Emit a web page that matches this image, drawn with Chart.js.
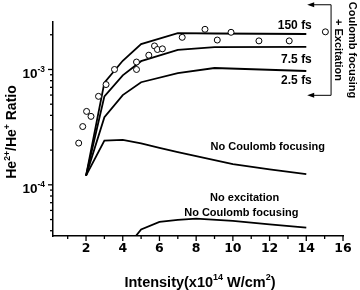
<!DOCTYPE html>
<html>
<head>
<meta charset="utf-8">
<script src="https://cdn.jsdelivr.net/npm/chart.js@4.4.1/dist/chart.umd.min.js"></script>
<style>
html, body { margin: 0; padding: 0; background: #fff; }
#wrap { width: 360px; height: 290px; position: relative; }
</style>
</head>
<body>
<div id="wrap"><canvas id="ratioChart"></canvas></div>
<script>
// theory curves, x = intensity (x10^14 W/cm2), y = He2+/He+ ratio
var fs150_x = [2, 3, 4, 5, 7, 9, 14];
var fs150_y = [1.2e-4, 7.7e-4, 1.19e-3, 1.66e-3, 2.07e-3, 2.05e-3, 2.03e-3];
var fs75_x = [2, 3, 4, 5, 7, 9, 14];
var fs75_y = [1.2e-4, 5.85e-4, 8.9e-4, 1.18e-3, 1.48e-3, 1.56e-3, 1.57e-3];
var fs25_x = [2, 3, 4, 5, 7, 9, 14];
var fs25_y = [1.2e-4, 3.86e-4, 6.0e-4, 7.75e-4, 9.3e-4, 1.03e-3, 9.7e-4];
var noCF_x = [2, 3, 4, 5, 6, 7, 8, 10, 12, 14];
var noCF_y = [1.2e-4, 2.42e-4, 2.45e-4, 2.29e-4, 2.09e-4, 1.92e-4, 1.77e-4, 1.51e-4, 1.36e-4, 1.24e-4];
var noExc_x = [4, 5, 6, 7, 8, 10, 12, 14];
var noExc_y = [2.6e-5, 4.1e-5, 4.77e-5, 4.96e-5, 5.1e-5, 4.87e-5, 4.54e-5, 4.25e-5];
// measured points (open circles)
var exp_x = [1.6, 1.82, 2.03, 2.27, 2.68, 3.09, 3.55, 4.75, 4.75, 5.42, 5.73, 5.89, 6.16, 7.24, 8.48, 9.15, 9.9, 11.42, 13.07, 15.04];
var exp_y = [2.3e-4, 3.2e-4, 4.33e-4, 3.92e-4, 5.85e-4, 7.4e-4, 1.0e-3, 1.16e-3, 1.0e-3, 1.33e-3, 1.6e-3, 1.49e-3, 1.51e-3, 1.9e-3, 2.23e-3, 1.8e-3, 2.1e-3, 1.77e-3, 1.77e-3, 2.12e-3];

// ticks
var xTickValues = [1, 2, 3, 4, 5, 6, 7, 8, 9, 10, 11, 12, 13, 14, 15, 16];
var xTickLabels = ['', '2', '', '4', '', '6', '', '8', '', '10', '', '12', '', '14', '', '16'];
var yMajorTicks = [1e-4, 1e-3];
var yMajorExp = ['-4', '-3'];
var yMinorTicks = [4e-5, 5e-5, 6e-5, 7e-5, 8e-5, 9e-5, 2e-4, 3e-4, 4e-4, 5e-4, 6e-4, 7e-4, 8e-4, 9e-4, 2e-3];

function pts(xs, ys) {
    return xs.map(function (v, i) { return { x: v, y: ys[i] }; });
}

var FONT = '"Liberation Sans", Arial, sans-serif';

function drawRich(ctx, parts, x, y, size, align) {
    var widths = [], total = 0;
    parts.forEach(function (p) {
        ctx.font = 'bold ' + (p[1] ? size * 0.62 : size) + 'px ' + FONT;
        var w = ctx.measureText(p[0]).width;
        widths.push(w);
        total += w;
    });
    var start = align === 'center' ? x - total / 2 : (align === 'right' ? x - total : x);
    ctx.textAlign = 'left';
    ctx.textBaseline = 'alphabetic';
    parts.forEach(function (p, i) {
        ctx.font = 'bold ' + (p[1] ? size * 0.62 : size) + 'px ' + FONT;
        ctx.fillText(p[0], start, p[1] ? y - size * 0.45 : y);
        start += widths[i];
    });
}

function seg(ctx, x1, y1, x2, y2) {
    ctx.beginPath();
    ctx.moveTo(x1, y1);
    ctx.lineTo(x2, y2);
    ctx.stroke();
}

var decor = {
    id: 'decor',
    afterDraw: function (chart) {
        var ctx = chart.ctx, xs = chart.scales.x, ys = chart.scales.y, a = chart.chartArea;
        ctx.save();
        ctx.strokeStyle = '#000';
        ctx.fillStyle = '#000';
        ctx.lineWidth = 1.3;
        // x tick marks (outward)
        xTickValues.forEach(function (v) {
            var px = xs.getPixelForValue(v);
            seg(ctx, px, a.bottom, px, a.bottom + (v % 2 === 0 ? 5 : 3));
        });
        // y tick marks (outward)
        yMajorTicks.forEach(function (v) {
            var py = ys.getPixelForValue(v);
            seg(ctx, a.left, py, a.left - 5, py);
        });
        yMinorTicks.forEach(function (v) {
            var py = ys.getPixelForValue(v);
            seg(ctx, a.left, py, a.left - 3, py);
        });
        // y tick labels 10^n
        yMajorTicks.forEach(function (v, i) {
            var py = ys.getPixelForValue(v);
            drawRich(ctx, [['10', false], [yMajorExp[i], true]], a.left - 8, py + 8.5, 13.5, 'right');
        });
        // axis titles
        drawRich(ctx, [['Intensity(x10', false], ['14', true], [' W/cm', false], ['2', true], [')', false]],
            (a.left + a.right) / 2 + 2, 286.5, 14.5, 'center');
        ctx.save();
        ctx.translate(11, 132);
        ctx.rotate(-Math.PI / 2);
        drawRich(ctx, [['He', false], ['2+', true], ['/He', false], ['+', true], [' Ratio', false]], 0, 5, 14, 'center');
        ctx.restore();

        // curve labels
        ctx.font = 'bold 12px ' + FONT;
        ctx.textAlign = 'right';
        ctx.textBaseline = 'middle';
        ctx.fillText('150 fs', xs.getPixelForValue(14.3), ys.getPixelForValue(2.4e-3));
        ctx.fillText('7.5 fs', xs.getPixelForValue(14.3), ys.getPixelForValue(1.22e-3));
        ctx.fillText('2.5 fs', xs.getPixelForValue(14.3), ys.getPixelForValue(8.07e-4));
        ctx.font = 'bold 11px ' + FONT;
        ctx.textAlign = 'center';
        ctx.fillText('No Coulomb focusing', xs.getPixelForValue(11.9), ys.getPixelForValue(2.11e-4));
        ctx.fillText('No excitation', xs.getPixelForValue(10.64), ys.getPixelForValue(7.74e-5));
        ctx.fillText('No Coulomb focusing', xs.getPixelForValue(10.46), ys.getPixelForValue(5.74e-5));

        // bracket with arrows
        var bx = xs.getPixelForValue(15.35);
        var bTop = ys.getPixelForValue(3.64e-3), bBot = ys.getPixelForValue(5.97e-4);
        var ax = xs.getPixelForValue(14.05);
        ctx.lineWidth = 1;
        seg(ctx, bx, bTop, bx, bBot);
        [bTop, bBot].forEach(function (y) {
            seg(ctx, bx, y, ax + 4, y);
            ctx.beginPath();
            ctx.moveTo(ax, y);
            ctx.lineTo(ax + 7, y - 2.5);
            ctx.lineTo(ax + 7, y + 2.5);
            ctx.closePath();
            ctx.fill();
        });
        ctx.font = 'bold 11px ' + FONT;
        ctx.textAlign = 'center';
        ctx.textBaseline = 'middle';
        var cy = (bTop + bBot) / 2;
        ctx.save();
        ctx.translate(bx + 20.5, cy);
        ctx.rotate(Math.PI / 2);
        ctx.fillText('Coulomb focusing', 0, 0);
        ctx.restore();
        ctx.save();
        ctx.translate(bx + 7, cy);
        ctx.rotate(Math.PI / 2);
        ctx.fillText('+ Excitation', 0, 0);
        ctx.restore();
        ctx.restore();
    }
};

function curve(xs, ys) {
    return {
        data: pts(xs, ys),
        borderColor: '#000',
        borderWidth: 1.8,
        pointRadius: 0,
        tension: 0,
        fill: false
    };
}

new Chart(document.getElementById('ratioChart'), {
    type: 'line',
    data: {
        datasets: [
            {
                data: pts(exp_x, exp_y),
                showLine: false,
                pointStyle: 'circle',
                pointRadius: 3,
                borderWidth: 1,
                borderColor: '#000',
                backgroundColor: '#fff'
            },
            curve(fs150_x, fs150_y),
            curve(fs75_x, fs75_y),
            curve(fs25_x, fs25_y),
            curve(noCF_x, noCF_y),
            curve(noExc_x, noExc_y)
        ]
    },
    options: {
        responsive: true,
        maintainAspectRatio: false,
        animation: false,
        layout: { padding: { left: 0, top: 22, right: 17, bottom: 0 } },
        plugins: { legend: { display: false }, tooltip: { enabled: false } },
        scales: {
            x: {
                type: 'linear',
                min: 0.2,
                max: 16,
                afterBuildTicks: function (s) { s.ticks = xTickValues.map(function (v) { return { value: v }; }); },
                afterFit: function (s) { s.height = 54; },
                ticks: {
                    autoSkip: false,
                    maxRotation: 0,
                    padding: 5,
                    color: '#000',
                    font: { family: '"DejaVu Sans"', weight: 'bold', size: 12.5 },
                    callback: function (v) { return xTickLabels[xTickValues.indexOf(v)]; }
                },
                grid: { drawOnChartArea: false, drawTicks: false },
                border: { color: '#000', width: 1.5 }
            },
            y: {
                type: 'logarithmic',
                min: 3.6e-5,
                max: 2.58e-3,
                afterFit: function (s) { s.width = 53; },
                ticks: { display: false },
                grid: { display: false },
                border: { color: '#000', width: 1.5 }
            }
        }
    },
    plugins: [decor]
});
</script>
</body>
</html>
